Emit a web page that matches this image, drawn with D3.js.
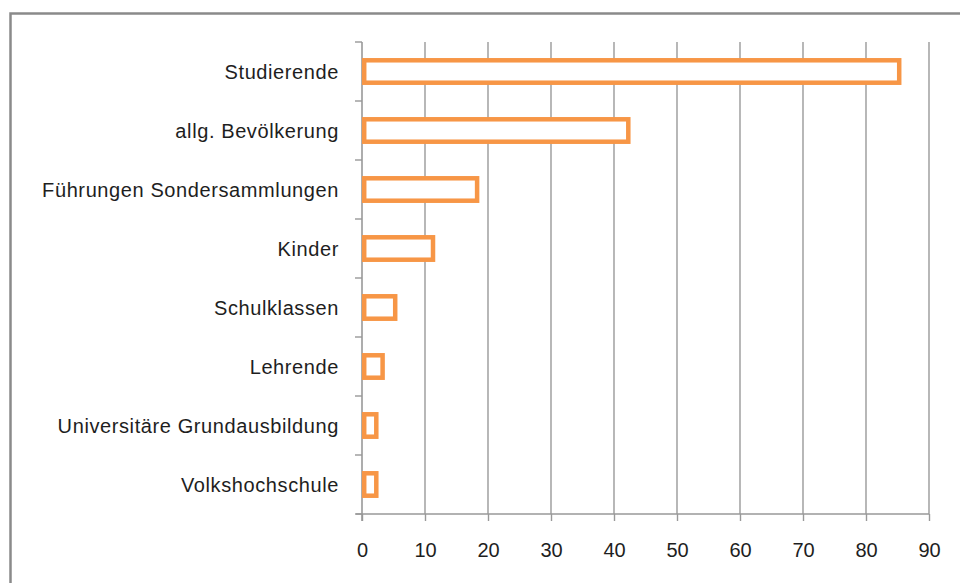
<!DOCTYPE html>
<html>
<head>
<meta charset="utf-8">
<script src="https://cdn.jsdelivr.net/npm/d3@7"></script>
<style>
  body { margin: 0; background: #fff; }
  svg { display: block; font-family: "Liberation Sans", Arial, sans-serif; }
</style>
</head>
<body>
<div id="chart"></div>
<script>
// Kategorien und Werte (von oben nach unten)
var categories = ["Studierende", "allg. Bevölkerung", "Führungen Sondersammlungen", "Kinder",
    "Schulklassen", "Lehrende", "Universitäre Grundausbildung", "Volkshochschule"];
var values = [85, 42, 18, 11, 5, 3, 2, 2];
var xTicks = [0, 10, 20, 30, 40, 50, 60, 70, 80, 90];

var W = 960, H = 583;
var plot = { left: 362, right: 929, top: 42, bottom: 514 };

var svg = d3.select("#chart").append("svg")
    .attr("width", W)
    .attr("height", H);

// Rahmen des Diagramms
svg.append("rect")
    .attr("x", 10.5).attr("y", 13.5)
    .attr("width", 1000).attr("height", 1000)
    .attr("fill", "#fff")
    .attr("stroke", "#8a8a8a")
    .attr("stroke-width", 2.5);

var x = d3.scaleLinear()
    .domain([0, 90])
    .range([plot.left, plot.right]);

var y = d3.scaleBand()
    .domain(categories)
    .range([plot.top, plot.bottom])
    .paddingInner(0.62)
    .paddingOuter(0.31);

var step = y.step();

// Gitternetzlinien
svg.selectAll("line.grid")
    .data(xTicks.slice(1))
    .enter()
    .append("line")
    .attr("class", "grid")
    .attr("x1", function (d) { return x(d); })
    .attr("x2", function (d) { return x(d); })
    .attr("y1", plot.top)
    .attr("y2", plot.bottom)
    .attr("stroke", "#a6a6a6")
    .attr("stroke-width", 1.6);

// x-Achse
var xAxis = svg.append("g")
    .attr("transform", "translate(0," + plot.bottom + ")")
    .call(d3.axisBottom(x).tickValues(xTicks).tickSize(7).tickPadding(22).tickSizeOuter(0));
xAxis.select(".domain").attr("stroke", "#999").attr("stroke-width", 1.6)
    .attr("d", "M" + (plot.left - 6) + ",0H" + plot.right);
xAxis.selectAll(".tick line").attr("stroke", "#999").attr("stroke-width", 1.4);
xAxis.selectAll(".tick text")
    .attr("fill", "#1e1e1e")
    .style("font-size", "20px")
    .style("font-family", "'Liberation Sans', Arial, sans-serif");

// y-Achse mit Strichen an den Kategoriegrenzen
var yAxis = svg.append("g");
yAxis.append("line")
    .attr("x1", plot.left).attr("x2", plot.left)
    .attr("y1", plot.top).attr("y2", plot.bottom + 7)
    .attr("stroke", "#999").attr("stroke-width", 1.6);
yAxis.selectAll("line.ytick")
    .data(d3.range(categories.length + 1))
    .enter()
    .append("line")
    .attr("class", "ytick")
    .attr("x1", plot.left - 7).attr("x2", plot.left)
    .attr("y1", function (i) { return plot.top + i * step; })
    .attr("y2", function (i) { return plot.top + i * step; })
    .attr("stroke", "#999").attr("stroke-width", 1.4);

yAxis.selectAll("text")
    .data(categories)
    .enter()
    .append("text")
    .attr("x", 339)
    .attr("y", function (d) { return y(d) + y.bandwidth() / 2; })
    .attr("dy", "0.36em")
    .attr("text-anchor", "end")
    .attr("fill", "#1e1e1e")
    .style("font-size", "20px")
    .style("letter-spacing", "0.6px")
    .text(function (d) { return d; });

// Balken (nur Umriss)
svg.selectAll("rect.bar")
    .data(categories)
    .enter()
    .append("rect")
    .attr("class", "bar")
    .attr("x", x(0) + 2.2)
    .attr("y", function (d) { return y(d); })
    .attr("width", function (d, i) { return x(values[i]) - x(0) - 0.5; })
    .attr("height", y.bandwidth())
    .attr("fill", "#fff")
    .attr("stroke", "#f79646")
    .attr("stroke-width", 4.5);
</script>
</body>
</html>
